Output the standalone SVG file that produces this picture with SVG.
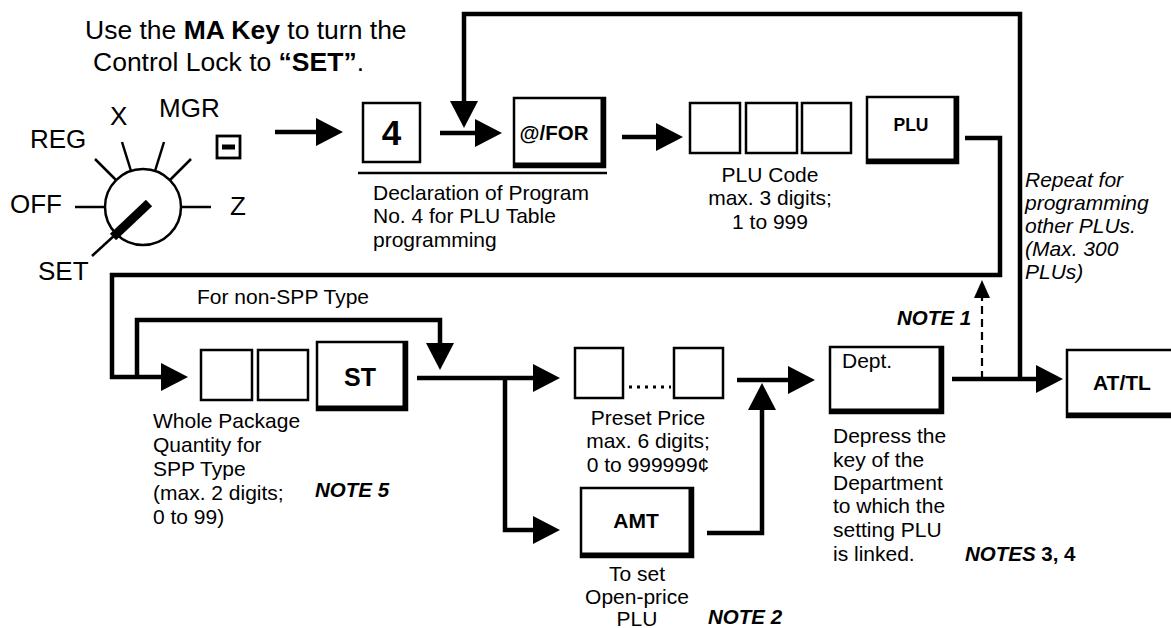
<svg xmlns="http://www.w3.org/2000/svg" width="1171" height="628" viewBox="0 0 1171 628">
<style>
text{font-family:"Liberation Sans",Arial,sans-serif;fill:#000}
.t{font-size:21px}
.hd{font-size:26.5px}
.lab{font-size:26px}
.b{font-weight:bold}
.note{font-size:20.5px;font-weight:bold;font-style:italic}
.it{font-size:21px;font-style:italic}
.mid{text-anchor:middle}
.box{fill:#fff;stroke:#000;stroke-width:2.5}
.sh{fill:none;stroke:#000;stroke-width:5;stroke-linejoin:miter}
.con{fill:none;stroke:#000;stroke-width:4.5;stroke-linejoin:miter}
.tick{stroke:#000;stroke-width:2.5;fill:none}
.dash{fill:none;stroke:#000;stroke-width:2.2;stroke-dasharray:8 5}
</style>
<defs>
<marker id="ah" markerUnits="userSpaceOnUse" markerWidth="28" markerHeight="28" viewBox="0 0 28 28" refX="12" refY="14" orient="auto"><path d="M0,0 L27,14 L0,28 z" fill="#000"/></marker>
<marker id="ahs" markerUnits="userSpaceOnUse" markerWidth="18" markerHeight="16" viewBox="0 0 18 16" refX="6" refY="8" orient="auto"><path d="M0,0 L18,8 L0,16 z" fill="#000"/></marker>
</defs>

<g id="instruction">
<text class="hd" x="85" y="39">Use the <tspan class="b">MA Key</tspan> to turn the</text>
<text class="hd" x="93" y="71">Control Lock to <tspan class="b">“SET”</tspan>.</text>
</g>

<g id="control-lock">
<circle cx="143" cy="207" r="38" fill="#fff" stroke="#000" stroke-width="2.5"/>
<line class="tick" x1="181" y1="207" x2="211" y2="207"/>
<line class="tick" x1="170" y1="180" x2="191" y2="159"/>
<line class="tick" x1="155" y1="171" x2="164" y2="142"/>
<line class="tick" x1="131" y1="171" x2="122" y2="142"/>
<line class="tick" x1="116" y1="180" x2="95" y2="159"/>
<line class="tick" x1="105" y1="207" x2="75" y2="207"/>
<line class="tick" x1="116" y1="234" x2="92" y2="256"/>
<line x1="113" y1="237" x2="149" y2="203" stroke="#000" stroke-width="9"/>
<text class="lab" x="30" y="148">REG</text>
<text class="lab" x="110" y="125">X</text>
<text class="lab" x="159" y="117">MGR</text>
<rect x="217" y="136" width="23" height="22" fill="#fff" stroke="#000" stroke-width="2.8"/>
<rect x="222" y="144.5" width="13" height="5" fill="#000"/>
<text class="lab" x="10" y="213">OFF</text>
<text class="lab" x="230" y="215">Z</text>
<text class="lab" x="38" y="280">SET</text>
</g>

<g id="key-4">
<rect class="box" x="363" y="103" width="57" height="59"/>
<text class="b mid" x="391.5" y="145" font-size="35">4</text>
</g>

<g id="key-for">
<rect class="box" x="514" y="98" width="91" height="69"/>
<path class="sh" d="M603,99 V165 H515"/>
<text class="b mid" x="554" y="140" font-size="20.5">@/FOR</text>
</g>

<g id="declaration">
<line x1="358" y1="173" x2="607" y2="173" stroke="#000" stroke-width="2.5"/>
<text class="t" x="373" y="200">Declaration of Program</text>
<text class="t" x="373" y="223">No. 4 for PLU Table</text>
<text class="t" x="373" y="247">programming</text>
</g>

<g id="plu-code">
<rect class="box" x="690" y="103" width="50" height="50"/>
<rect class="box" x="746" y="103" width="51" height="50"/>
<rect class="box" x="802" y="103" width="49" height="50"/>
<text class="t mid" x="770" y="182">PLU Code</text>
<text class="t mid" x="770" y="205">max. 3 digits;</text>
<text class="t mid" x="770" y="229">1 to 999</text>
</g>

<g id="key-plu">
<rect class="box" x="867" y="97" width="91" height="66"/>
<path class="sh" d="M956,98 V161 H868"/>
<text class="b mid" x="911" y="131" font-size="17.5">PLU</text>
</g>

<g id="repeat-note">
<text class="it" x="1025" y="187">Repeat for</text>
<text class="it" x="1025" y="210">programming</text>
<text class="it" x="1025" y="233">other PLUs.</text>
<text class="it" x="1025" y="256">(Max. 300</text>
<text class="it" x="1025" y="279">PLUs)</text>
</g>

<g id="non-spp-label">
<text class="t" x="197" y="304">For non-SPP Type</text>
</g>

<g id="package-qty">
<rect class="box" x="201" y="350" width="51" height="50"/>
<rect class="box" x="258" y="350" width="50" height="50"/>
<text class="t" x="153" y="428">Whole Package</text>
<text class="t" x="153" y="452">Quantity for</text>
<text class="t" x="153" y="476">SPP Type</text>
<text class="t" x="153" y="500">(max. 2 digits;</text>
<text class="t" x="153" y="524">0 to 99)</text>
<text class="note" x="315" y="497">NOTE 5</text>
</g>

<g id="key-st">
<rect class="box" x="317" y="342" width="90" height="68"/>
<path class="sh" d="M405,343 V408 H318"/>
<text class="b mid" x="360" y="386" font-size="25">ST</text>
</g>

<g id="preset-price">
<rect class="box" x="575" y="348" width="48" height="50"/>
<rect class="box" x="674" y="348" width="49" height="50"/>
<line x1="629" y1="387" x2="671" y2="387" stroke="#000" stroke-width="3" stroke-dasharray="3 5"/>
<text class="t mid" x="648" y="425">Preset Price</text>
<text class="t mid" x="648" y="448">max. 6 digits;</text>
<text class="t mid" x="648" y="472">0 to 999999¢</text>
</g>

<g id="key-amt">
<rect class="box" x="581" y="488" width="112" height="69"/>
<path class="sh" d="M691,489 V555 H582"/>
<text class="b mid" x="636" y="528" font-size="21">AMT</text>
<text class="t mid" x="637" y="581">To set</text>
<text class="t mid" x="637" y="604">Open-price</text>
<text class="t mid" x="637" y="626">PLU</text>
<text class="note" x="708" y="624">NOTE 2</text>
</g>

<g id="key-dept">
<rect class="box" x="830" y="347" width="113" height="66"/>
<path class="sh" d="M941,348 V411 H831"/>
<text class="t" x="842" y="368">Dept.</text>
<text class="t" x="833" y="443">Depress the</text>
<text class="t" x="833" y="467">key of the</text>
<text class="t" x="833" y="490">Department</text>
<text class="t" x="833" y="513">to which the</text>
<text class="t" x="833" y="537">setting PLU</text>
<text class="t" x="833" y="561">is linked.</text>
<text x="965" y="561" font-size="20.5" font-weight="bold"><tspan font-style="italic">NOTES</tspan> 3,  4</text>
</g>

<g id="key-attl">
<rect class="box" x="1067" y="350" width="120" height="67"/>
<path class="sh" d="M1068,415 H1185"/>
<text class="b" x="1093" y="390" font-size="21">AT/TL</text>
</g>

<g id="note1">
<text class="note" x="897" y="325">NOTE 1</text>
</g>

<g id="connectors">
<path class="con" d="M275,132 H328" marker-end="url(#ah)"/>
<path class="con" d="M440,133 H487" marker-end="url(#ah)"/>
<path class="con" d="M1020,379 V14 H464 V113" marker-end="url(#ah)"/>
<path class="con" d="M622,137 H668" marker-end="url(#ah)"/>
<path class="con" d="M965,138 H1000 V275 H112 V377 H173" marker-end="url(#ah)"/>
<path class="con" d="M137,377 V320 H440 V355" marker-end="url(#ah)"/>
<path class="con" d="M417,378 H545" marker-end="url(#ah)"/>
<path class="con" d="M505,378 V530 H545" marker-end="url(#ah)"/>
<path class="con" d="M737,380 H800" marker-end="url(#ah)"/>
<path class="con" d="M707,533 H762 V398" marker-end="url(#ah)"/>
<path class="con" d="M952,379 H1048" marker-end="url(#ah)"/>
<path class="dash" d="M982,379 V292" marker-end="url(#ahs)"/>
</g>
</svg>
